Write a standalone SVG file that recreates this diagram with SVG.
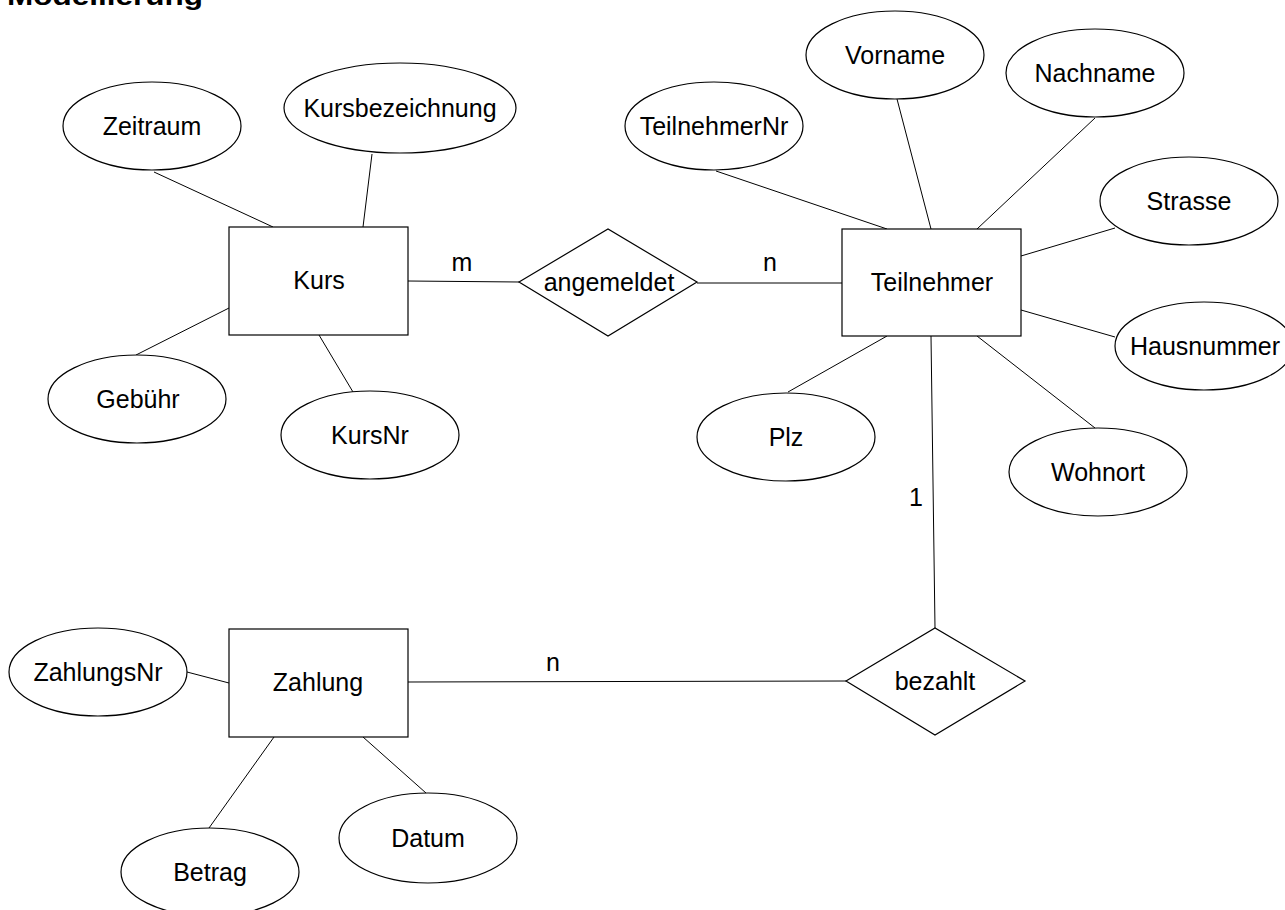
<svg xmlns="http://www.w3.org/2000/svg" width="1285" height="910" viewBox="0 0 1285 910">
<style>
  .shape { fill: #ffffff; stroke: #000000; stroke-width: 1.2; }
  .conn line { stroke: #000000; stroke-width: 1; }
  text { font-family: "Liberation Sans", Arial, sans-serif; font-size: 25px; fill: #000000; text-anchor: middle; }
  .title { font-weight: bold; text-anchor: start; font-size: 26px; }
</style>
<rect x="0" y="0" width="1285" height="910" fill="#ffffff"/>
<text class="title" x="7" y="5" textLength="196" lengthAdjust="spacingAndGlyphs">Modellierung</text>

<g id="connectors" class="conn">
  <line x1="408" y1="281" x2="519" y2="282"/>
  <line x1="697" y1="283" x2="842" y2="283"/>
  <line x1="931" y1="336" x2="935" y2="628"/>
  <line x1="408" y1="682" x2="846" y2="681"/>
  <line x1="154" y1="172" x2="273" y2="227"/>
  <line x1="372" y1="154" x2="363" y2="227"/>
  <line x1="229" y1="308" x2="136" y2="355"/>
  <line x1="319" y1="335" x2="353" y2="392"/>
  <line x1="716" y1="171" x2="887" y2="229"/>
  <line x1="897" y1="99" x2="931" y2="229"/>
  <line x1="1095" y1="118" x2="977" y2="229"/>
  <line x1="1115" y1="228" x2="1021" y2="256"/>
  <line x1="1021" y1="310" x2="1115" y2="337"/>
  <line x1="887" y1="336" x2="788" y2="392"/>
  <line x1="977" y1="336" x2="1095" y2="428"/>
  <line x1="187" y1="672" x2="229" y2="683"/>
  <line x1="274" y1="737" x2="209" y2="828"/>
  <line x1="363" y1="737" x2="426" y2="793"/>
</g>

<g id="labels">
  <text x="462" y="271">m</text>
  <text x="770" y="271">n</text>
  <text x="916" y="506">1</text>
  <text x="553" y="671">n</text>
</g>

<g id="kurs"><rect class="shape" x="229" y="227" width="179" height="108"/><text x="319" y="289">Kurs</text></g>
<g id="teilnehmer"><rect class="shape" x="842" y="229" width="179" height="107"/><text x="932" y="291">Teilnehmer</text></g>
<g id="zahlung"><rect class="shape" x="229" y="629" width="179" height="108"/><text x="318" y="691">Zahlung</text></g>

<g id="angemeldet"><polygon class="shape" points="519,282 608,229 697,282 608,336"/><text x="609" y="291">angemeldet</text></g>
<g id="bezahlt"><polygon class="shape" points="846,681 935,628 1025,681 935,735"/><text x="935" y="690">bezahlt</text></g>

<g id="zeitraum"><ellipse class="shape" cx="152" cy="126" rx="89" ry="44"/><text x="152" y="135">Zeitraum</text></g>
<g id="kursbezeichnung"><ellipse class="shape" cx="400" cy="108" rx="116" ry="45"/><text x="400" y="117">Kursbezeichnung</text></g>
<g id="gebuehr"><ellipse class="shape" cx="137" cy="399" rx="89" ry="44"/><text x="138" y="408">Gebühr</text></g>
<g id="kursnr"><ellipse class="shape" cx="370" cy="435" rx="89" ry="44"/><text x="370" y="444">KursNr</text></g>

<g id="teilnehmernr"><ellipse class="shape" cx="714" cy="126" rx="89" ry="44"/><text x="714" y="135">TeilnehmerNr</text></g>
<g id="vorname"><ellipse class="shape" cx="895" cy="55" rx="89" ry="44"/><text x="895" y="64">Vorname</text></g>
<g id="nachname"><ellipse class="shape" cx="1095" cy="73" rx="89" ry="44"/><text x="1095" y="82">Nachname</text></g>
<g id="strasse"><ellipse class="shape" cx="1189" cy="201" rx="89" ry="44"/><text x="1189" y="210">Strasse</text></g>
<g id="hausnummer"><ellipse class="shape" cx="1204" cy="346" rx="89" ry="44"/><text x="1205" y="355">Hausnummer</text></g>
<g id="plz"><ellipse class="shape" cx="786" cy="437" rx="89" ry="44"/><text x="786" y="446">Plz</text></g>
<g id="wohnort"><ellipse class="shape" cx="1098" cy="472" rx="89" ry="44"/><text x="1098" y="481">Wohnort</text></g>

<g id="zahlungsnr"><ellipse class="shape" cx="98" cy="672" rx="89" ry="44"/><text x="98" y="681">ZahlungsNr</text></g>
<g id="betrag"><ellipse class="shape" cx="210" cy="872" rx="89" ry="44"/><text x="210" y="881">Betrag</text></g>
<g id="datum"><ellipse class="shape" cx="428" cy="838" rx="89" ry="45"/><text x="428" y="847">Datum</text></g>
</svg>
